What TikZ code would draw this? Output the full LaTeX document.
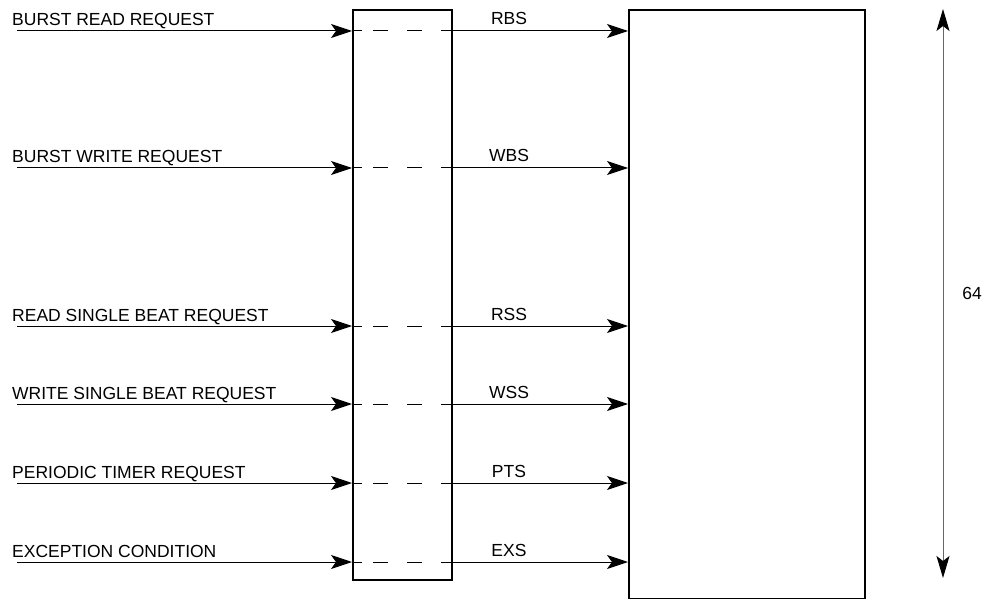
\documentclass[tikz,border=0pt]{standalone}
\usepackage{fontspec}
\setmainfont{Liberation Sans}
\usetikzlibrary{arrows.meta}
\begin{document}
\begin{tikzpicture}[x=1pt,y=-1pt,
  sig/.style={-{Stealth[length=21pt,width=14pt,inset=5pt]},line width=1pt},
  thru/.style={line width=1pt,dash pattern=on 10pt off 11pt on 15pt off 19pt on 15pt off 19pt on 15pt off 20pt},
  box/.style={draw,line width=2pt,inner sep=0pt,anchor=north west},
  lbl/.style={font=\fontsize{17.5}{20}\selectfont,inner sep=0pt}]
\useasboundingbox (0,0) rectangle (986,599);
\node[box,minimum width=99pt,minimum height=570pt] (sel) at (352,9) {};
\node[box,minimum width=236pt,minimum height=589pt] (mem) at (628,9) {};
\foreach \y/\req/\sig/\nm in {31/BURST READ REQUEST/RBS/rbs,
    168/BURST WRITE REQUEST/WBS/wbs,
    326/READ SINGLE BEAT REQUEST/RSS/rss,
    404/WRITE SINGLE BEAT REQUEST/WSS/wss,
    483/PERIODIC TIMER REQUEST/PTS/pts,
    562/EXCEPTION CONDITION/EXS/exs} {
  \coordinate (\nm) at (17,\y);
  \node[lbl,anchor=base west] (\nm req) at (12,\y-5) {\req};
  \node[lbl,anchor=base] (\nm sig) at (509,\y-6) {\sig};
  \draw[sig] (\nm) -- (\nm -| sel.west);
  \draw[thru] (\nm -| sel.west) -- (\nm -| sel.east);
  \draw[sig] (\nm -| sel.east) -- (\nm -| mem.west);
}
% size of the memory block
\coordinate (top) at (943,9);
\coordinate (bot) at (943,578);
\draw[black!60,line width=1pt,{Stealth[length=22pt,width=13pt,inset=5pt,color=black]}-{Stealth[length=22pt,width=13pt,inset=5pt,color=black]}] (top) -- (bot);
\node[lbl] (size) at (972,293) {64};
\end{tikzpicture}
\end{document}
